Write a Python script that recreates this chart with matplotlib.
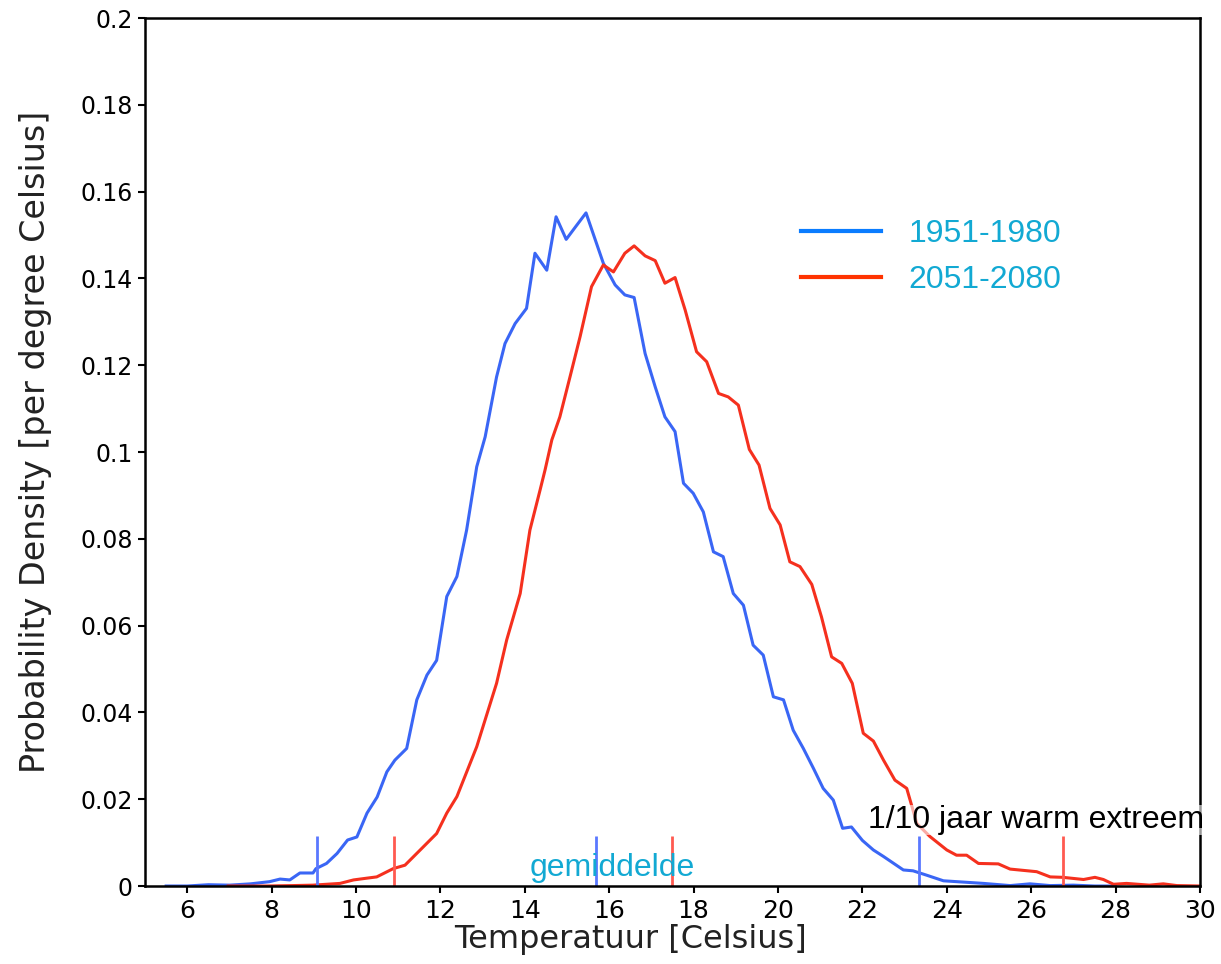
import matplotlib
matplotlib.use("Agg")
import matplotlib.pyplot as plt
from matplotlib.lines import Line2D

# temperature (deg C) and probability density
temp_1951 = [5.5, 6.0, 6.5, 7.0, 7.5, 7.95, 8.2, 8.43, 8.67, 8.98,
             9.05, 9.3, 9.55, 9.8, 10.02, 10.26, 10.5, 10.73, 10.92, 11.2,
             11.44, 11.68, 11.91, 12.15, 12.39, 12.62, 12.86, 13.06, 13.33, 13.53,
             13.77, 14.04, 14.24, 14.52, 14.74, 14.98, 15.21, 15.45, 15.86, 16.14,
             16.37, 16.59, 16.85, 17.09, 17.32, 17.56, 17.76, 17.99, 18.23, 18.47,
             18.7, 18.94, 19.18, 19.41, 19.65, 19.89, 20.13, 20.36, 20.6, 20.84,
             21.07, 21.31, 21.53, 21.74, 22.0, 22.26, 22.5, 22.97, 23.2, 23.52,
             23.92, 24.4, 24.87, 25.5, 25.97, 26.45, 27.0, 27.5, 28.0]
dens_1951 = [0.0, 0.0, 0.0003, 0.0002, 0.0005, 0.001, 0.0016, 0.0014, 0.003, 0.003,
             0.004, 0.0052, 0.0075, 0.0106, 0.0113, 0.0168, 0.0205, 0.0263, 0.029, 0.0317,
             0.0429, 0.0486, 0.052, 0.0667, 0.0713, 0.082, 0.0966, 0.1035, 0.1173, 0.125,
             0.1296, 0.1331, 0.1458, 0.1419, 0.1542, 0.149, 0.152, 0.1551, 0.1435, 0.1385,
             0.1362, 0.1356, 0.1227, 0.115, 0.1081, 0.1047, 0.0928, 0.0905, 0.0862, 0.077,
             0.0759, 0.0674, 0.0647, 0.0555, 0.0532, 0.0436, 0.0429, 0.0359, 0.0317, 0.0271,
             0.0225, 0.0198, 0.0133, 0.0136, 0.0105, 0.0083, 0.0068, 0.0037, 0.0035, 0.0025,
             0.0012, 0.0009, 0.0006, 0.0001, 0.0005, 0.0001, 0.0002, 0.0, 0.0]

temp_2051 = [6.97, 7.5, 7.88, 8.5, 8.98, 9.62, 9.94, 10.25, 10.49, 10.88,
             11.16, 11.52, 11.91, 12.15, 12.39, 12.86, 13.33, 13.57, 13.89, 14.12,
             14.36, 14.48, 14.64, 14.83, 15.07, 15.31, 15.58, 15.86, 16.1, 16.37,
             16.59, 16.85, 17.09, 17.32, 17.56, 17.8, 18.07, 18.31, 18.59, 18.82,
             19.06, 19.32, 19.55, 19.81, 20.05, 20.28, 20.52, 20.8, 21.03, 21.27,
             21.51, 21.76, 22.02, 22.26, 22.5, 22.77, 23.05, 23.29, 23.6, 24.0,
             24.23, 24.47, 24.75, 25.22, 25.5, 26.13, 26.45, 26.75, 27.24, 27.51,
             27.71, 27.95, 28.26, 28.8, 29.13, 29.45, 30.0]
dens_2051 = [0.0, 0.0, 0.0, 0.0001, 0.0002, 0.0006, 0.0014, 0.0018, 0.0021, 0.004,
             0.0048, 0.0083, 0.0121, 0.0168, 0.0206, 0.0321, 0.0467, 0.0567, 0.0674, 0.082,
             0.0912, 0.0959, 0.1028, 0.1081, 0.1173, 0.1266, 0.1381, 0.1431, 0.1415, 0.1458,
             0.1475, 0.1452, 0.1441, 0.1389, 0.1402, 0.1327, 0.1231, 0.1208, 0.1135, 0.1127,
             0.1108, 0.1006, 0.097, 0.087, 0.0832, 0.0747, 0.0736, 0.0695, 0.062, 0.0528,
             0.0513, 0.0467, 0.0352, 0.0334, 0.029, 0.0244, 0.0225, 0.0144, 0.0114, 0.0083,
             0.0071, 0.0071, 0.0052, 0.0051, 0.0039, 0.0033, 0.0021, 0.002, 0.0015, 0.002,
             0.0015, 0.0004, 0.0006, 0.0002, 0.0005, 0.0001, 0.0]

# 10% cold, mean, 1/10 year warm extreme
marks_1951 = [9.07, 15.69, 23.33]
marks_2051 = [10.91, 17.48, 26.75]
mark_height = 0.0115

xticks = [6, 8, 10, 12, 14, 16, 18, 20, 22, 24, 26, 28, 30]
yticks = [0, 0.02, 0.04, 0.06, 0.08, 0.1, 0.12, 0.14, 0.16, 0.18, 0.2]
ytick_labels = ["0", "0.02", "0.04", "0.06", "0.08", "0.1", "0.12", "0.14", "0.16", "0.18", "0.2"]

blue = "#3a66f5"
red = "#f5301e"
cyan = "#12a9d3"

fig = plt.figure(figsize=(12.21, 9.64), dpi=100)
ax = fig.add_axes([0.1188, 0.0809, 0.8640, 0.9004])

ax.plot(temp_1951, dens_1951, color=blue, lw=2.2)
ax.plot(temp_2051, dens_2051, color=red, lw=2.2)

ax.vlines(marks_1951, 0, mark_height, color="#5a78ff", lw=2)
ax.vlines(marks_2051, 0, mark_height, color="#ff5a50", lw=2)

ax.set_xlim(5, 30)
ax.set_ylim(0, 0.2)
ax.set_xticks(xticks)
ax.set_yticks(yticks)
ax.set_yticklabels(ytick_labels)
ax.tick_params(direction="out", length=5, width=1.5, labelsize=17, pad=4)
ax.tick_params(axis="x", labelsize=18)
for s in ax.spines.values():
    s.set_linewidth(1.8)

ax.set_xlabel("Temperatuur [Celsius]", fontsize=23, va="center", color="#222222")
ax.xaxis.set_label_coords(0.46, -0.062)
ax.set_ylabel("Probability Density [per degree Celsius]", fontsize=24, va="center",
              color="#222222")
ax.yaxis.set_label_coords(-0.104, 0.5115)

ax.text(14.12, 0.0041, "gemiddelde", color=cyan, fontsize=23,
        family="Liberation Sans", va="center", ha="left")
ax.text(22.13, 0.0152, "1/10 jaar warm extreem", color="black", fontsize=23,
        family="Liberation Sans", va="center", ha="left", clip_on=False,
        bbox=dict(facecolor="white", edgecolor="none", alpha=0.6, pad=0))

handles = [Line2D([], [], color="#0a7cff", lw=3),
           Line2D([], [], color="#ff3300", lw=3)]
ax.legend(handles, ["1951-1980", "2051-2080"], loc="upper left",
          bbox_to_anchor=(0.607, 0.787), frameon=False, borderpad=0,
          handlelength=2.5, handletextpad=0.85, labelspacing=0.5,
          labelcolor=cyan, prop={"family": "Liberation Sans", "size": 23})

fig.savefig("out.png", dpi=100)
